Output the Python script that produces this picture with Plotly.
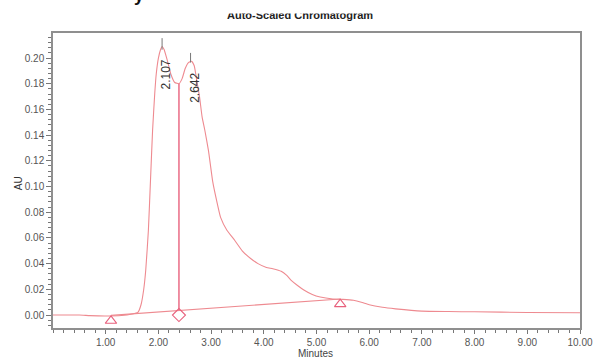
import plotly.graph_objects as go

# Chromatogram trace (minutes, AU)
time_min = [0.00, 0.50, 0.70, 1.00, 1.30, 1.50, 1.61, 1.67, 1.72, 1.76, 1.81, 1.85, 1.89, 1.93,
            1.96, 2.00, 2.04, 2.07, 2.11, 2.17, 2.24, 2.31, 2.39, 2.45, 2.51, 2.57, 2.63,
            2.68, 2.73, 2.78, 2.83, 2.88, 2.95, 3.03, 3.10, 3.18, 3.30, 3.45, 3.59, 3.75,
            3.89, 4.05, 4.17, 4.33, 4.43, 4.52, 4.64, 4.76, 4.92, 5.07, 5.31, 5.50, 5.70,
            5.85, 6.00, 6.25, 6.50, 7.00, 7.50, 8.00, 9.00, 10.00]
au = [0.0000, 0.0000, -0.0005, -0.0008, -0.0004, 0.0008, 0.0020, 0.0080, 0.0195, 0.0350,
      0.0660, 0.1050, 0.1440, 0.1720, 0.1880, 0.2000, 0.2065, 0.2090, 0.2065, 0.1980,
      0.1870, 0.1810, 0.1800, 0.1840, 0.1920, 0.1965, 0.1975, 0.1940, 0.1820, 0.1700,
      0.1540, 0.1440, 0.1280, 0.1040, 0.0900, 0.0760, 0.0660, 0.0580, 0.0500, 0.0440,
      0.0400, 0.0370, 0.0360, 0.0340, 0.0310, 0.0270, 0.0230, 0.0195, 0.0160, 0.0140,
      0.0125, 0.0122, 0.0115, 0.0100, 0.0080, 0.0060, 0.0048, 0.0030, 0.0027, 0.0025,
      0.0020, 0.0018]

# Integration baseline and markers
baseline_x = [1.10, 5.45]
baseline_y = [-0.0003, 0.0125]
triangle_x = [1.10, 5.45]
triangle_y = [-0.0045, 0.0085]
drop_x = [2.39, 2.39]
drop_y = [0.0042, 0.1800]
diamond_x = [2.39]
diamond_y = [0.0]

# Peak labels
peak_labels = ["2.107", "2.642"]
peak_label_x = [2.14, 2.68]
peak_label_y = [0.187, 0.177]
peak_tick_x = [2.07, 2.61]
peak_tick_lo = [0.2065, 0.1965]
peak_tick_hi = [0.2155, 0.2040]

x_tickvals = [1, 2, 3, 4, 5, 6, 7, 8, 9, 10]
x_ticktext = ["1.00", "2.00", "3.00", "4.00", "5.00", "6.00", "7.00", "8.00", "9.00", "10.00"]
y_tickvals = [0.00, 0.02, 0.04, 0.06, 0.08, 0.10, 0.12, 0.14, 0.16, 0.18, 0.20]
y_ticktext = ["0.00", "0.02", "0.04", "0.06", "0.08", "0.10", "0.12", "0.14", "0.16", "0.18", "0.20"]

LINE = "#ee8a90"
DROP = "#e8607c"
FONT = "Liberation Sans, Arial"

fig = go.Figure()
fig.add_trace(go.Scatter(x=time_min, y=au, mode="lines",
                         line=dict(color=LINE, width=1.1, shape="spline", smoothing=0.4),
                         hoverinfo="skip"))
fig.add_trace(go.Scatter(x=baseline_x, y=baseline_y, mode="lines",
                         line=dict(color=LINE, width=1.1), hoverinfo="skip"))
fig.add_trace(go.Scatter(x=drop_x, y=drop_y, mode="lines",
                         line=dict(color=DROP, width=1.4), hoverinfo="skip"))
fig.add_trace(go.Scatter(x=triangle_x, y=triangle_y, mode="markers",
                         marker=dict(symbol="triangle-up-open", size=10, color=DROP,
                                     line=dict(width=1.1, color=DROP)), hoverinfo="skip"))
fig.add_trace(go.Scatter(x=diamond_x, y=diamond_y, mode="markers",
                         marker=dict(symbol="diamond-open", size=10, color=DROP,
                                     line=dict(width=1.1, color=DROP)), hoverinfo="skip"))
for px, lo, hi in zip(peak_tick_x, peak_tick_lo, peak_tick_hi):
    fig.add_trace(go.Scatter(x=[px, px], y=[lo, hi], mode="lines",
                             line=dict(color="#777777", width=1), hoverinfo="skip"))
for lbl, lx, ly in zip(peak_labels, peak_label_x, peak_label_y):
    fig.add_annotation(text=lbl, x=lx, y=ly, xref="x", yref="y", textangle=-90,
                       showarrow=False, xanchor="center", yanchor="middle",
                       font=dict(family=FONT, size=12, color="#333333"))

fig.update_layout(
    width=605, height=363,
    margin=dict(l=53, r=12, t=33, b=35),
    paper_bgcolor="white", plot_bgcolor="white",
    showlegend=False,
    font=dict(family=FONT, size=10, color="#555555"),
)
axis_common = dict(showline=True, linecolor="#8f8f8f", linewidth=1.5, mirror=True,
                   showgrid=False, zeroline=False, ticks="outside",
                   tickcolor="#777777", tickwidth=1,
                   tickfont=dict(family=FONT, size=10, color="#555555"))
fig.update_xaxes(range=[0, 10], tickvals=x_tickvals, ticktext=x_ticktext, ticklen=4,
                 minor=dict(ticks="outside", ticklen=3, dtick=0.2, tick0=0,
                            tickcolor="#777777", showgrid=False),
                 **axis_common)
fig.update_yaxes(range=[-0.0101, 0.2195], tickvals=y_tickvals, ticktext=y_ticktext, ticklen=5,
                 minor=dict(ticks="outside", ticklen=3, dtick=0.004, tick0=0,
                            tickcolor="#777777", showgrid=False),
                 **axis_common)

# Axis titles and chart title as annotations
fig.add_annotation(text="AU", xref="paper", yref="paper", x=-0.065, y=0.49,
                   xanchor="center", yanchor="middle",
                   textangle=-90, showarrow=False,
                   font=dict(family=FONT, size=10, color="#333333"))
fig.add_annotation(text="Minutes", xref="paper", yref="paper", x=0.498, y=-0.088,
                   xanchor="center", yanchor="middle", showarrow=False,
                   font=dict(family=FONT, size=10, color="#444444"))
fig.add_annotation(text="<b>Auto-Scaled Chromatogram</b>", xref="paper", yref="paper",
                   x=0.469, y=1.061, xanchor="center", yanchor="middle", showarrow=False,
                   font=dict(family=FONT, size=11, color="#222222"))
# white band hiding the top of the (cropped) title
fig.add_annotation(text=" ", xref="paper", yref="paper", x=0.469, y=1.087,
                   xanchor="center", yanchor="middle",
                   showarrow=False, bgcolor="white", width=180, height=10)
# cropped glyph at the very top
fig.add_annotation(text="<b>y</b>", xref="paper", yref="paper", x=0.163, y=1.13,
                   xanchor="center", yanchor="middle", showarrow=False,
                   font=dict(family=FONT, size=18, color="#111111"))

fig.write_html("out.html")
